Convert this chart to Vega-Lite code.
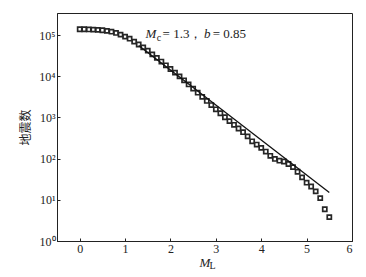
{
  "$schema": "https://vega.github.io/schema/vega-lite/v6.json",
  "width": 295,
  "height": 228,
  "autosize": {"type": "none"},
  "padding": {"left": 57, "top": 13, "right": 14, "bottom": 36},
  "background": "white",
  "datasets": {
    "obs": [
      {"M": 0.0, "N": 138000}, {"M": 0.1, "N": 138000}, {"M": 0.2, "N": 136500}, {"M": 0.3, "N": 134900},
      {"M": 0.4, "N": 133400}, {"M": 0.5, "N": 130300}, {"M": 0.6, "N": 125900}, {"M": 0.7, "N": 120200},
      {"M": 0.8, "N": 112200}, {"M": 0.9, "N": 102300}, {"M": 1.0, "N": 91200}, {"M": 1.1, "N": 81300},
      {"M": 1.2, "N": 69200}, {"M": 1.3, "N": 58900}, {"M": 1.4, "N": 50100}, {"M": 1.5, "N": 41700},
      {"M": 1.6, "N": 33900}, {"M": 1.7, "N": 27900}, {"M": 1.8, "N": 22650}, {"M": 1.9, "N": 18400},
      {"M": 2.0, "N": 14960}, {"M": 2.1, "N": 12160}, {"M": 2.2, "N": 9890}, {"M": 2.3, "N": 7940},
      {"M": 2.4, "N": 6310}, {"M": 2.5, "N": 5010}, {"M": 2.6, "N": 3980}, {"M": 2.7, "N": 3160},
      {"M": 2.8, "N": 2510}, {"M": 2.9, "N": 1995}, {"M": 3.0, "N": 1570}, {"M": 3.1, "N": 1260},
      {"M": 3.2, "N": 1010}, {"M": 3.3, "N": 813}, {"M": 3.4, "N": 661}, {"M": 3.5, "N": 537},
      {"M": 3.6, "N": 437}, {"M": 3.7, "N": 347}, {"M": 3.8, "N": 263}, {"M": 3.9, "N": 219},
      {"M": 4.0, "N": 182}, {"M": 4.1, "N": 148}, {"M": 4.2, "N": 117}, {"M": 4.3, "N": 98},
      {"M": 4.4, "N": 89}, {"M": 4.5, "N": 85}, {"M": 4.6, "N": 74}, {"M": 4.7, "N": 62},
      {"M": 4.8, "N": 48}, {"M": 4.9, "N": 35}, {"M": 5.0, "N": 26}, {"M": 5.1, "N": 21},
      {"M": 5.2, "N": 16}, {"M": 5.3, "N": 11}, {"M": 5.4, "N": 5.9}, {"M": 5.5, "N": 3.8}
    ],
    "fit": [
      {"M": 1.3, "N": 55600}, {"M": 5.5, "N": 15.0}
    ],
    "italic": [
      {"M": 1.45, "N": 83000, "t": "M"},
      {"M": 2.737, "N": 83000, "t": "b"}
    ],
    "roman": [
      {"M": 1.826, "N": 83000, "t": "= 1.3，"},
      {"M": 2.93, "N": 83000, "t": "= 0.85"}
    ],
    "sub": [
      {"M": 1.70, "N": 70000, "t": "c"},
      {"M": 2.86, "N": 0.209, "t": "L"}
    ]
  },
  "encoding": {
    "x": {
      "field": "M", "type": "quantitative",
      "scale": {"domain": [-0.5, 6], "nice": false, "zero": false},
      "axis": {"values": [0, 1, 2, 3, 4, 5, 6], "title": "M", "titleFontStyle": "italic", "titleFontWeight": "normal", "titleFont": "Liberation Serif", "titleFontSize": 13, "titlePadding": 2}
    },
    "y": {
      "field": "N", "type": "quantitative",
      "scale": {"type": "log", "domain": [1, 342000], "nice": false},
      "axis": {
        "values": [1, 10, 100, 1000, 10000, 100000],
        "labelExpr": "'10' + ['⁰','¹','²','³','⁴','⁵'][round(log(datum.value)/LN10)]",
        "title": "地震数", "titleFont": "Noto Sans CJK SC", "titleFontWeight": "normal", "titleFontSize": 12, "titlePadding": 6
      }
    }
  },
  "layer": [
    {
      "data": {"name": "obs"},
      "mark": {"type": "point", "shape": "square", "filled": false, "size": 17, "strokeWidth": 1.7, "color": "#262626", "opacity": 1}
    },
    {
      "data": {"name": "fit"},
      "mark": {"type": "line", "color": "#111", "strokeWidth": 1.3}
    },
    {
      "data": {"name": "italic"},
      "mark": {"type": "text", "align": "left", "baseline": "alphabetic", "font": "Liberation Serif", "fontStyle": "italic", "fontSize": 13, "color": "#222"},
      "encoding": {"text": {"field": "t"}}
    },
    {
      "data": {"name": "roman"},
      "mark": {"type": "text", "align": "left", "baseline": "alphabetic", "font": "Liberation Serif", "fontSize": 13, "color": "#222"},
      "encoding": {"text": {"field": "t"}}
    },
    {
      "data": {"name": "sub"},
      "mark": {"type": "text", "align": "left", "baseline": "alphabetic", "font": "Liberation Serif", "fontSize": 10, "color": "#222"},
      "encoding": {"text": {"field": "t"}}
    }
  ],
  "config": {
    "view": {"stroke": "#222", "strokeWidth": 1},
    "axis": {
      "grid": false,
      "domainColor": "#222",
      "tickColor": "#222",
      "tickSize": -3,
      "labelPadding": 5,
      "labelFont": "Liberation Serif",
      "labelFontSize": 12,
      "labelColor": "#222",
      "titleColor": "#222"
    }
  }
}
